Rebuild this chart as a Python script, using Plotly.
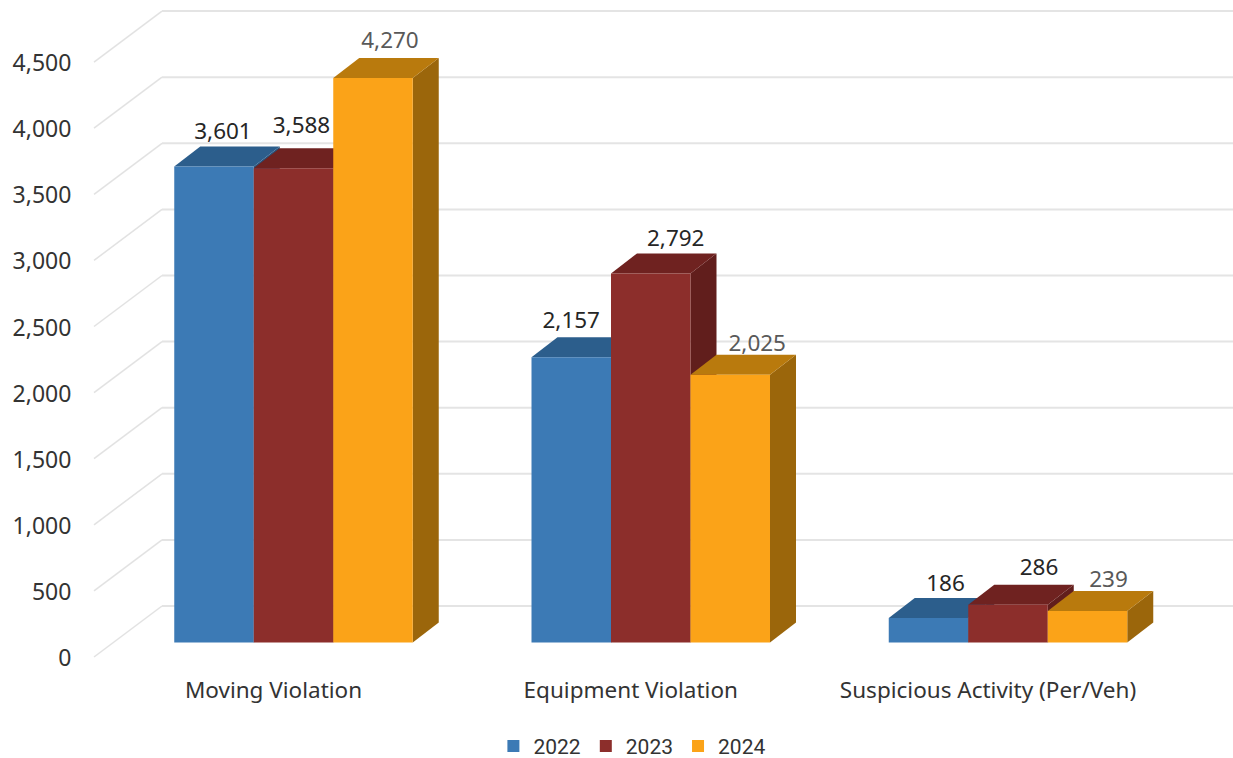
import plotly.graph_objects as go

categories = ["Moving Violation", "Equipment Violation", "Suspicious Activity (Per/Veh)"]
years = ["2022", "2023", "2024"]
values_2022 = [3601, 2157, 186]
values_2023 = [3588, 2792, 286]
values_2024 = [4270, 2025, 239]
y_ticks = [0, 500, 1000, 1500, 2000, 2500, 3000, 3500, 4000, 4500]

series_values = [values_2022, values_2023, values_2024]
front_colors = ["#3c7ab5", "#8c2e2b", "#fba318"]
top_colors = ["#2c5e8c", "#6f2220", "#b97a0d"]
side_colors = ["#28537c", "#611e1c", "#9b660b"]
label_colors = ["#262626", "#262626", "#595959"]

# label nudges in screen px, per series and category
label_dx = [[9, 0, 17], [8, 25, 31], [17, 27, 21]]
label_dy = [[33, 35, 33], [41, 33, 35], [36, 29, 30]]

FONT = "Noto Sans"
W, H = 1233, 780  # page clips to the 758 px window; extra room keeps the legend from shrinking the plot
PLOT_L, PLOT_B = 78, 668
PX_PER_VAL = 0.1322
GROUP_PX = 357.25
CENTER0 = 293.5
BAR_PX = 79.5
DEPTH_X, DEPTH_Y = 26, 20
BASE_TICK, BASE_BAR, BASE_WALL_FRONT, BASE_WALL_BACK = 658.0, 642.5, 657.0, 606.0
WALL_L, WALL_R = 94, 162


def xu(px):
    return (px - CENTER0) / GROUP_PX


dxu = DEPTH_X / GROUP_PX
dyv = DEPTH_Y / PX_PER_VAL
bw = BAR_PX / GROUP_PX
fig = go.Figure()

# walls: tick axis coordinates, shifted to the front edge and the back plane
front_shift = (BASE_TICK - BASE_WALL_FRONT) / PX_PER_VAL
back_shift = (BASE_TICK - BASE_WALL_BACK) / PX_PER_VAL
for v in y_ticks:
    fig.add_trace(go.Scatter(x=[xu(WALL_L), xu(WALL_R)], y=[v + front_shift, v + back_shift], mode="lines",
                             line=dict(color="#e2e2e2", width=1.5), showlegend=False, hoverinfo="skip"))
    fig.add_trace(go.Scatter(x=[xu(WALL_R), xu(W)], y=[v + back_shift, v + back_shift], mode="lines",
                             line=dict(color="#e4e4e4", width=2), showlegend=False, hoverinfo="skip"))

# depth faces, painted series by series
for s, vals in enumerate(series_values):
    for c, v in enumerate(vals):
        left = c + (s - 1.5) * bw
        right = left + bw
        fig.add_trace(go.Scatter(x=[right, right + dxu, right + dxu, right, right],
                                 y=[0, dyv, v + dyv, v, 0], mode="lines", fill="toself",
                                 fillcolor=side_colors[s], line=dict(width=0), yaxis="y2",
                                 showlegend=False, hoverinfo="skip"))
        fig.add_trace(go.Scatter(x=[left, left + dxu, right + dxu, right, left],
                                 y=[v, v + dyv, v + dyv, v, v], mode="lines", fill="toself",
                                 fillcolor=top_colors[s], line=dict(width=0), yaxis="y2",
                                 showlegend=False, hoverinfo="skip"))

# front faces
for s, vals in enumerate(series_values):
    fig.add_trace(go.Bar(x=[0, 1, 2], y=vals, name=years[s], marker=dict(color=front_colors[s], line=dict(width=0)),
                         yaxis="y3"))

# data labels
for s, vals in enumerate(series_values):
    fig.add_trace(go.Scatter(
        x=[c + (s - 1) * bw + label_dx[s][c] / GROUP_PX for c in range(3)],
        y=[v + label_dy[s][c] / PX_PER_VAL for c, v in enumerate(vals)],
        mode="text", text=[f"{v:,}" for v in vals], textposition="middle center",
        textfont=dict(family=FONT, size=22.5, color=label_colors[s]),
        yaxis="y3", showlegend=False, hoverinfo="skip"))


def yrange(base):
    return [(base - PLOT_B) / PX_PER_VAL, base / PX_PER_VAL]


hidden = dict(visible=False, overlaying="y", showgrid=False, zeroline=False, range=yrange(BASE_BAR))
fig.update_layout(
    width=W, height=H, margin=dict(l=PLOT_L, r=0, t=0, b=H - PLOT_B),
    paper_bgcolor="white", plot_bgcolor="white",
    barmode="group", bargap=1 - 3 * bw, bargroupgap=0,
    font=dict(family=FONT, size=22, color="#333333"),
    xaxis=dict(range=[xu(PLOT_L), xu(W)], tickmode="array",
               tickvals=[c - 20 / GROUP_PX for c in range(3)], ticktext=categories,
               showgrid=False, zeroline=False, showline=False, ticks="outside", ticklen=2, tickcolor="white",
               tickfont=dict(size=22.5, color="#333333")),
    yaxis=dict(range=yrange(BASE_TICK), tickmode="array", tickvals=y_ticks, tickformat=",",
               showgrid=False, zeroline=False, showline=False, ticks="outside", ticklen=1, tickcolor="white",
               tickfont=dict(size=23, color="#333333")),
    yaxis2=hidden,
    yaxis3=hidden,
    legend=dict(orientation="h", xanchor="center", yanchor="middle", x=0.48, y=-0.1172,
                font=dict(family="Roboto", size=21, color="#333333"), itemwidth=30, bgcolor="rgba(0,0,0,0)"),
    showlegend=True,
)
fig.write_html("out.html", config={"displayModeBar": False},
               post_script="document.body.style.margin='0';document.documentElement.style.overflow='hidden';")
